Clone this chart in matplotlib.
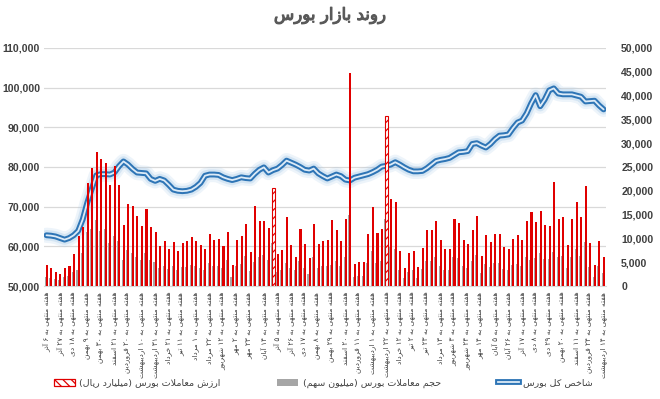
import numpy as np
import matplotlib
matplotlib.use("Agg")
import matplotlib.pyplot as plt
import matplotlib.patheffects as pe
from matplotlib.patches import Patch
from matplotlib.lines import Line2D
from matplotlib import font_manager as fm
from matplotlib.ft2font import FT2Font

# ---- data ----
# weekly value of trades, thousand (billion rial) -> right axis
value_k = [
    4.4, 3.8, 2.9, 2.5, 3.8, 4.2, 6.7, 10.6, 12.5, 21.7,
    24.8, 28.1, 26.7, 25.8, 21.2, 25.2, 21.2, 12.8, 17.2, 16.8,
    14.7, 12.6, 16.2, 12.3, 11.3, 8.4, 9.5, 7.8, 9.2, 7.4,
    9.0, 9.5, 10.2, 9.5, 8.6, 7.8, 10.9, 9.7, 9.9, 8.4,
    11.3, 4.4, 9.7, 10.5, 13.0, 7.2, 16.8, 13.7, 13.7, 12.2,
    20.6, 6.7, 7.6, 14.5, 8.6, 6.1, 12.0, 8.8, 5.9, 13.0,
    8.8, 9.5, 9.7, 13.9, 11.8, 9.5, 14.1, 44.7, 4.6, 5.0,
    5.0, 10.9, 16.7, 11.1, 12.0, 35.7, 18.3, 17.6, 7.4, 3.8,
    6.9, 7.4, 4.0, 8.0, 11.8, 11.8, 13.7, 9.7, 7.8, 7.8,
    14.1, 13.2, 9.7, 8.8, 11.8, 14.7, 6.3, 10.7, 9.2, 10.9,
    10.9, 8.2, 7.8, 9.9, 10.7, 9.7, 13.7, 15.5, 13.4, 15.8,
    12.8, 12.6, 21.8, 14.1, 14.5, 8.6, 14.1, 17.6, 14.5, 21.0,
    9.0, 4.4, 9.5, 6.1,
]
# weekly volume, thousand (million shares) -> right axis
volume_k = [
    2.0, 1.8, 1.4, 1.2, 1.9, 2.1, 3.0, 3.4, 7.0, 11.4,
    12.0, 13.9, 11.5, 12.0, 9.0, 10.5, 9.5, 5.5, 7.5, 7.0,
    6.0, 5.5, 7.0, 5.5, 5.0, 3.8, 4.2, 3.5, 4.2, 3.3,
    4.0, 4.0, 4.5, 4.2, 3.8, 3.4, 4.8, 4.2, 4.3, 3.8,
    5.5, 2.0, 4.2, 4.6, 6.3, 3.2, 5.0, 6.0, 6.5, 5.4,
    9.0, 3.0, 3.4, 4.8, 3.8, 3.4, 5.3, 3.9, 2.6, 6.0,
    3.9, 4.2, 4.3, 4.4, 5.2, 4.2, 6.2, 15.0, 2.0, 2.2,
    2.2, 4.8, 7.4, 4.9, 5.3, 14.0, 8.1, 7.8, 3.3, 1.7,
    3.0, 3.3, 1.8, 3.5, 5.2, 5.2, 6.0, 4.3, 3.4, 3.4,
    6.2, 5.8, 4.3, 3.9, 5.2, 6.5, 2.8, 4.7, 4.1, 4.8,
    4.8, 3.6, 3.4, 4.4, 4.7, 4.3, 6.0, 5.5, 5.9, 7.0,
    5.6, 5.6, 7.2, 6.2, 6.4, 3.8, 6.2, 7.8, 6.4, 9.3,
    4.0, 1.9, 4.2, 2.7,
]
# total index, thousand -> left axis
index_k = [
    62.8, 62.7, 62.5, 62.1, 61.7, 62.1, 62.8, 63.9, 66.8, 71.0,
    74.5, 77.9, 78.2, 78.2, 78.1, 78.6, 80.2, 81.4, 80.6, 79.5,
    78.6, 78.5, 78.4, 77.0, 76.5, 77.0, 76.6, 75.5, 74.3, 74.0,
    73.9, 74.0, 74.3, 75.0, 76.0, 77.8, 78.1, 78.1, 78.0, 77.4,
    77.0, 76.7, 77.0, 77.4, 77.2, 77.1, 78.3, 79.3, 79.9, 78.6,
    79.2, 79.6, 80.5, 81.6, 81.1, 80.6, 80.0, 79.3, 79.1, 79.6,
    78.4, 77.7, 77.1, 77.6, 78.1, 77.7, 76.8, 76.6, 77.3, 77.6,
    77.9, 78.2, 78.7, 79.3, 80.1, 80.3, 80.6, 81.2, 80.6, 79.9,
    79.3, 78.9, 78.9, 79.0, 79.7, 80.6, 81.5, 81.8, 82.0, 82.3,
    83.0, 83.7, 83.8, 84.0, 85.8, 86.0, 85.4, 84.9, 85.8, 87.0,
    87.9, 88.0, 88.2, 89.8, 91.2, 91.7, 93.5, 96.0, 98.1, 95.3,
    97.0, 99.3, 99.8, 98.5, 98.3, 98.3, 98.3, 98.0, 97.7, 96.5,
    96.6, 96.7, 95.5, 94.5,
]
highlighted = [50, 75]          # bars drawn with the hatched fill
label_every = 3
week_dates = [
    "۶ آذر", "۲۷ آذر", "۱۸ دی", "۹ بهمن", "۳۰ بهمن", "۲۱ اسفند", "۲۰ فروردین",
    "۱۰ اردیبهشت", "۳۱ اردیبهشت", "۲۱ خرداد", "۱۱ تیر", "۱ مرداد", "۲۲ مرداد",
    "۱۲ شهریور", "۲ مهر", "۲۳ مهر", "۱۴ آبان", "۵ آذر", "۲۶ آذر", "۱۷ دی",
    "۸ بهمن", "۲۹ بهمن", "۲۰ اسفند", "۱۱ فروردین", "۱ اردیبهشت", "۲۲ اردیبهشت",
    "۱۲ خرداد", "۲ تیر", "۲۳ تیر", "۱۳ مرداد", "۳ شهریور", "۲۴ شهریور", "۱۴ مهر",
    "۵ آبان", "۲۶ آبان", "۱۷ آذر", "۸ دی", "۲۹ دی", "۲۰ بهمن", "۱۱ اسفند",
    "۲۴ فروردین", "۱۴ اردیبهشت",
]
week_prefix = "هفته منتهی به "
title = "روند بازار بورس"
legend_labels = ["ارزش معاملات بورس (میلیارد ریال)",
                 "حجم معاملات بورس (میلیون سهم)",
                 "شاخص کل بورس"]

# ---- palette ----
RED   = "#E00000"
GRAY  = "#A6A6A6"
BLUE  = "#2E75B6"
BLUEI = "#DDEBF7"
GLOW  = "#9DC3E6"
INK   = "#404040"
GRID  = "#D9D9D9"

# ---- minimal Persian shaping + RTL ordering (matplotlib does neither) ----
FORMS = {  # isolated, final, initial, medial
    "\u0622": ("\uFE81", "\uFE82", None, None),
    "\u0627": ("\uFE8D", "\uFE8E", None, None),
    "\u0628": ("\uFE8F", "\uFE90", "\uFE91", "\uFE92"),
    "\u067E": ("\uFB56", "\uFB57", "\uFB58", "\uFB59"),
    "\u062A": ("\uFE95", "\uFE96", "\uFE97", "\uFE98"),
    "\u062C": ("\uFE9D", "\uFE9E", "\uFE9F", "\uFEA0"),
    "\u062D": ("\uFEA1", "\uFEA2", "\uFEA3", "\uFEA4"),
    "\u062E": ("\uFEA5", "\uFEA6", "\uFEA7", "\uFEA8"),
    "\u062F": ("\uFEA9", "\uFEAA", None, None),
    "\u0630": ("\uFEAB", "\uFEAC", None, None),
    "\u0631": ("\uFEAD", "\uFEAE", None, None),
    "\u0632": ("\uFEAF", "\uFEB0", None, None),
    "\u0698": ("\uFB8A", "\uFB8B", None, None),
    "\u0633": ("\uFEB1", "\uFEB2", "\uFEB3", "\uFEB4"),
    "\u0634": ("\uFEB5", "\uFEB6", "\uFEB7", "\uFEB8"),
    "\u0635": ("\uFEB9", "\uFEBA", "\uFEBB", "\uFEBC"),
    "\u0639": ("\uFEC9", "\uFECA", "\uFECB", "\uFECC"),
    "\u0641": ("\uFED1", "\uFED2", "\uFED3", "\uFED4"),
    "\u0642": ("\uFED5", "\uFED6", "\uFED7", "\uFED8"),
    "\u06A9": ("\uFB8E", "\uFB8F", "\uFB90", "\uFB91"),
    "\u06AF": ("\uFB92", "\uFB93", "\uFB94", "\uFB95"),
    "\u0644": ("\uFEDD", "\uFEDE", "\uFEDF", "\uFEE0"),
    "\u0645": ("\uFEE1", "\uFEE2", "\uFEE3", "\uFEE4"),
    "\u0646": ("\uFEE5", "\uFEE6", "\uFEE7", "\uFEE8"),
    "\u0648": ("\uFEED", "\uFEEE", None, None),
    "\u0647": ("\uFEE9", "\uFEEA", "\uFEEB", "\uFEEC"),
    "\u06CC": ("\uFBFC", "\uFBFD", "\uFBFE", "\uFBFF"),
}
LAM_ALEF = {"\u0627": ("\uFEFB", "\uFEFC"), "\u0622": ("\uFEF5", "\uFEF6")}
# arabic look-alikes if a Persian presentation form is missing from the font
ALT = {"\uFBFC": "\uFEEF", "\uFBFD": "\uFEF0", "\uFBFE": "\uFEF3", "\uFBFF": "\uFEF4",
       "\uFB8E": "\uFED9", "\uFB8F": "\uFEDA", "\uFB90": "\uFEDB", "\uFB91": "\uFEDC"}
MIRROR = {"(": ")", ")": "("}

_have = set(FT2Font(fm.findfont(fm.FontProperties(family="DejaVu Sans"))).get_charmap())

def _glyph(g, base):
    if ord(g) in _have:
        return g
    if g in ALT and ord(ALT[g]) in _have:
        return ALT[g]
    return base

def fa(text):
    """Shape Persian text and put it in visual (left-to-right) order."""
    ch = list(text)
    dual = lambda c: c in FORMS and FORMS[c][2] is not None
    out, i = [], 0
    while i < len(ch):
        c = ch[i]
        if c not in FORMS:
            out.append(c); i += 1; continue
        jp = i > 0 and dual(ch[i - 1])
        if c == "\u0644" and i + 1 < len(ch) and ch[i + 1] in LAM_ALEF:
            out.append(LAM_ALEF[ch[i + 1]][1 if jp else 0]); i += 2; continue
        jn = dual(c) and i + 1 < len(ch) and ch[i + 1] in FORMS
        iso, fin, ini, med = FORMS[c]
        g = med if (jp and jn) else fin if jp else ini if jn else iso
        out.append(_glyph(g, c)); i += 1
    res, run = [], []
    for c in out[::-1]:
        if c.isdigit():
            run.append(c)
        else:
            res.extend(run[::-1]); run = []
            res.append(MIRROR.get(c, c))
    res.extend(run[::-1])
    return "".join(res)

plt.rcParams["font.family"] = ["DejaVu Sans"]
plt.rcParams["hatch.color"] = RED
plt.rcParams["hatch.linewidth"] = 0.9

# ---- figure ----
n = len(value_k)
x = np.arange(n)
val = np.array(value_k) * 1000
vol = np.array(volume_k) * 1000
idx = np.array(index_k) * 1000
hl = np.zeros(n, bool); hl[highlighted] = True

fig = plt.figure(figsize=(6.6, 3.99), dpi=100)
fig.patch.set_facecolor("white")
ax = fig.add_axes([0.067, 0.283, 0.851, 0.597])
ax2 = ax.twinx()

ax.set_xlim(-0.5, n - 0.5)
ax.set_ylim(50000, 110000)
ax2.set_ylim(0, 50000)
ax.set_yticks(np.arange(50000, 110001, 10000))
ax2.set_yticks(np.arange(0, 50001, 5000))
ax.yaxis.grid(True, color=GRID, lw=0.9)
ax.set_axisbelow(True)
for a in (ax, ax2):
    for s in a.spines.values():
        s.set_visible(False)
    a.tick_params(length=0)
ax.spines["bottom"].set_visible(True)
ax.spines["bottom"].set_color(GRID)

fmt = lambda v, p: f"{v:,.0f}"
ax.yaxis.set_major_formatter(fmt)
ax2.yaxis.set_major_formatter(fmt)
for a, pad in ((ax, 3), (ax2, 11)):
    a.tick_params(axis="y", labelcolor=INK, pad=pad)
    for t in a.get_yticklabels():
        t.set_fontfamily("Liberation Sans")
        t.set_fontsize(7.6)
        t.set_fontweight("bold")

# index line (double line with soft glow)
line_fx = [pe.Stroke(linewidth=11, foreground=GLOW, alpha=0.18),
           pe.Stroke(linewidth=7.5, foreground=GLOW, alpha=0.3),
           pe.Stroke(linewidth=4.2, foreground=BLUE), pe.Normal()]
ax.plot(x, idx, color=BLUEI, lw=1.3, zorder=3, solid_joinstyle="round",
        solid_capstyle="round", path_effects=line_fx)

# bars (secondary axis, drawn above the line)
ax2.bar(x - 0.2, vol, width=0.35, color=GRAY, lw=0, zorder=2)
ax2.bar(x[~hl] + 0.08, val[~hl], width=0.45, color=RED, lw=0, zorder=3)
ax2.bar(x[hl] + 0.08, val[hl], width=0.62, facecolor="white", edgecolor=RED,
        hatch="////", lw=0.8, zorder=3)

# x labels
ticks = x[::label_every]
ax.set_xticks(ticks)
ax.set_xticklabels([fa(week_prefix + d) for d in week_dates], rotation=90,
                   fontsize=5.3, color=INK, va="top", ha="center")
ax.tick_params(axis="x", pad=4)

# title: regular weight thickened with a stroke (keeps the joined glyph forms)
fig.text(0.5, 0.962, fa(title), ha="center", va="center", fontsize=12,
         color="#595959",
         path_effects=[pe.withStroke(linewidth=0.8, foreground="#595959")])

handles = [Patch(facecolor="white", edgecolor=RED, hatch="\\\\\\\\", lw=0.9),
           Patch(facecolor=GRAY, edgecolor="none"),
           Line2D([0], [0], color=BLUEI, lw=1.3, path_effects=line_fx[2:])]
fig.legend(handles, [fa(t) for t in legend_labels], loc="center",
           bbox_to_anchor=(0.49, 0.04), ncol=3, frameon=False, fontsize=6.8,
           labelcolor=INK, handlelength=2.2, handleheight=0.8,
           columnspacing=6, handletextpad=0.5)

fig.savefig("out.png", dpi=100, facecolor="white")
